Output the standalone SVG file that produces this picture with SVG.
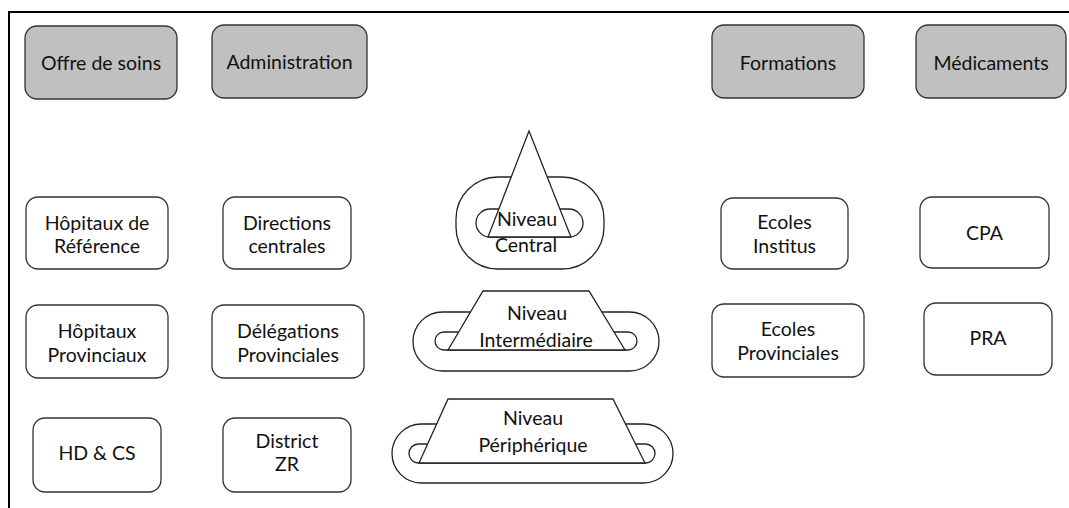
<svg xmlns="http://www.w3.org/2000/svg" width="1069" height="508" viewBox="0 0 1069 508">
<style>
  .bx{fill:#ffffff;stroke:#333333;stroke-width:1.3}
  .hd{fill:#c0c0c0;stroke:#333333;stroke-width:1.3}
  .ln{fill:#ffffff;stroke:#222222;stroke-width:1.3}
  text{font-family:"Lato","Liberation Sans",sans-serif;font-size:19.5px;fill:#111111;text-anchor:middle}
</style>
<rect x="0" y="0" width="1069" height="508" fill="#ffffff"/>
<path d="M9,508 V12 H1069" fill="none" stroke="#000" stroke-width="2"/>

<g id="offre"><rect class="hd" x="25" y="26" width="152" height="73" rx="12"/><text x="101" y="70">Offre de soins</text></g>
<g id="administration"><rect class="hd" x="212" y="25" width="155" height="73" rx="12"/><text x="289.5" y="69">Administration</text></g>
<g id="formations"><rect class="hd" x="712" y="25" width="152" height="73" rx="12"/><text x="788" y="70">Formations</text></g>
<g id="medicaments"><rect class="hd" x="916" y="25" width="150" height="73" rx="12"/><text x="991" y="70">Médicaments</text></g>

<g id="hopitaux-ref"><rect class="bx" x="26" y="197" width="142" height="72" rx="12"/><text x="97" y="230">Hôpitaux de</text><text x="97" y="253">Référence</text></g>
<g id="directions"><rect class="bx" x="223" y="197" width="128" height="72" rx="12"/><text x="287" y="230">Directions</text><text x="287" y="253">centrales</text></g>
<g id="hopitaux-prov"><rect class="bx" x="26" y="305" width="142" height="73" rx="12"/><text x="97" y="338">Hôpitaux</text><text x="97" y="362">Provinciaux</text></g>
<g id="delegations"><rect class="bx" x="212" y="305" width="152" height="73" rx="12"/><text x="288" y="338">Délégations</text><text x="288" y="362">Provinciales</text></g>
<g id="hdcs"><rect class="bx" x="33" y="418" width="128" height="74" rx="12"/><text x="97" y="460">HD &amp; CS</text></g>
<g id="district"><rect class="bx" x="223" y="418" width="128" height="74" rx="12"/><text x="287" y="448">District</text><text x="287" y="471">ZR</text></g>

<g id="ecoles-instituts"><rect class="bx" x="721" y="198" width="127" height="71" rx="12"/><text x="784.5" y="229">Ecoles</text><text x="784.5" y="253">Institus</text></g>
<g id="cpa"><rect class="bx" x="920" y="197" width="129" height="71" rx="12"/><text x="984.5" y="240">CPA</text></g>
<g id="ecoles-prov"><rect class="bx" x="712" y="304" width="152" height="73" rx="12"/><text x="788" y="336">Ecoles</text><text x="788" y="360">Provinciales</text></g>
<g id="pra"><rect class="bx" x="924" y="303" width="128" height="72" rx="12"/><text x="988" y="345">PRA</text></g>

<g id="niveau-central">
  <rect class="ln" x="456" y="177" width="148" height="92" rx="42"/>
  <rect class="ln" x="476" y="209" width="107" height="28" rx="14"/>
  <polygon class="ln" points="529,131 571,237 488,237"/>
  <text x="527" y="226">Niveau</text><text x="526" y="252">Central</text>
</g>
<g id="niveau-intermediaire">
  <rect class="ln" x="413" y="312" width="246" height="59" rx="29.5"/>
  <rect class="ln" x="435" y="332" width="202" height="18" rx="9"/>
  <polygon class="ln" points="483,291 589,291 625,350 448,350"/>
  <text x="537" y="320">Niveau</text><text x="536" y="347">Intermédiaire</text>
</g>
<g id="niveau-peripherique">
  <rect class="ln" x="392" y="424" width="281" height="59" rx="29.5"/>
  <rect class="ln" x="409" y="444" width="246" height="19" rx="9.5"/>
  <polygon class="ln" points="448,399 613,399 645,463 419,463"/>
  <text x="533" y="425">Niveau</text><text x="533" y="452">Périphérique</text>
</g>
</svg>
